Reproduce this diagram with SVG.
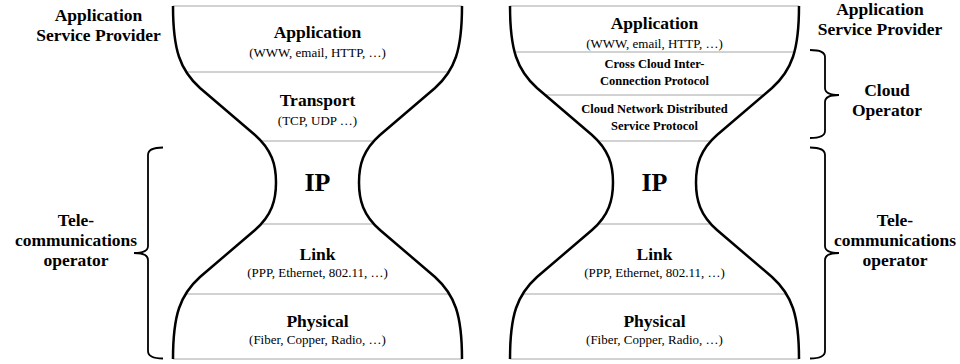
<svg xmlns="http://www.w3.org/2000/svg" width="960" height="364" viewBox="0 0 960 364" font-family="Liberation Serif, Times New Roman, DejaVu Serif, serif">
<style>
text{fill:#000;text-anchor:middle}
.b{font-weight:bold;font-size:17.5px}
.s{font-size:13px}
.m{font-weight:bold;font-size:12.5px}
.ip{font-weight:bold;font-size:26px}
.outline{fill:none;stroke:#000;stroke-width:2.5}
.div{stroke:#a6a6a6;stroke-width:1.2;fill:none}
.brace{fill:none;stroke:#000;stroke-width:1.8}
</style>
<defs>
<path id="hg" d="M173,6 C173,50 180,70 200,88 L255,135 C272,150 276,165 276,182.5 C276,200 272,215 255,230 L200,277 C180,295 173,315 173,359 M462,6 C462,50 455,70 435,88 L380,135 C363,150 359,165 359,182.5 C359,200 363,215 380,230 L435,277 C455,295 462,315 462,359"/>
</defs>

<g id="hourglass-left">
<line class="div" x1="173" y1="6" x2="462" y2="6"/>
<line class="div" x1="186" y1="72" x2="449" y2="72"/>
<line class="div" x1="260" y1="141" x2="375" y2="141"/>
<line class="div" x1="260" y1="224" x2="375" y2="224"/>
<line class="div" x1="186" y1="294" x2="449" y2="294"/>
<line class="div" x1="173" y1="359" x2="462" y2="359"/>
<use href="#hg" class="outline"/>
</g>

<g id="hourglass-right">
<line class="div" x1="510" y1="6" x2="799" y2="6"/>
<line class="div" x1="515" y1="52" x2="794" y2="52"/>
<line class="div" x1="545" y1="95" x2="764" y2="95"/>
<line class="div" x1="597" y1="141" x2="712" y2="141"/>
<line class="div" x1="597" y1="224" x2="712" y2="224"/>
<line class="div" x1="523" y1="294" x2="786" y2="294"/>
<line class="div" x1="510" y1="359" x2="799" y2="359"/>
<use href="#hg" class="outline" transform="translate(337,0)"/>
</g>

<g id="left-application"><text class="b" x="317.5" y="38">Application</text><text class="s" x="317.5" y="57">(WWW, email, HTTP, …)</text></g>
<g id="left-transport"><text class="b" x="317.5" y="106">Transport</text><text class="s" x="317.5" y="125">(TCP, UDP …)</text></g>
<g id="left-ip"><text class="ip" x="317.5" y="191">IP</text></g>
<g id="left-link"><text class="b" x="317.5" y="260">Link</text><text class="s" x="317.5" y="277">(PPP, Ethernet, 802.11, …)</text></g>
<g id="left-physical"><text class="b" x="317.5" y="327">Physical</text><text class="s" x="317.5" y="344">(Fiber, Copper, Radio, …)</text></g>

<g id="right-application"><text class="b" x="654.5" y="29">Application</text><text class="s" x="654.5" y="48">(WWW, email, HTTP, …)</text></g>
<g id="right-cross-cloud"><text class="m" x="654.5" y="68">Cross Cloud Inter-</text><text class="m" x="654.5" y="85">Connection Protocol</text></g>
<g id="right-cloud-network"><text class="m" x="654.5" y="113">Cloud Network Distributed</text><text class="m" x="654.5" y="130">Service Protocol</text></g>
<g id="right-ip"><text class="ip" x="654.5" y="191">IP</text></g>
<g id="right-link"><text class="b" x="654.5" y="260">Link</text><text class="s" x="654.5" y="277">(PPP, Ethernet, 802.11, …)</text></g>
<g id="right-physical"><text class="b" x="654.5" y="327">Physical</text><text class="s" x="654.5" y="344">(Fiber, Copper, Radio, …)</text></g>

<g id="label-asp-left"><text class="b" x="98.5" y="21">Application</text><text class="b" x="98.5" y="41">Service Provider</text></g>
<g id="label-tele-left"><text class="b" x="76" y="226">Tele-</text><text class="b" x="76" y="246" textLength="122" lengthAdjust="spacingAndGlyphs">communications</text><text class="b" x="76" y="266">operator</text></g>
<g id="label-asp-right"><text class="b" x="880" y="15">Application</text><text class="b" x="880" y="35">Service Provider</text></g>
<g id="label-cloud-operator"><text class="b" x="887" y="96">Cloud</text><text class="b" x="887" y="116">Operator</text></g>
<g id="label-tele-right"><text class="b" x="895" y="226">Tele-</text><text class="b" x="895" y="246" textLength="122" lengthAdjust="spacingAndGlyphs">communications</text><text class="b" x="895" y="266">operator</text></g>

<g id="connectors">
<path class="brace" d="M163,147.5 Q148,147.5 148,155 L148,246 Q148,253 134,253 Q148,253 148,260 L148,351 Q148,358.5 163,358.5"/>
<path class="brace" d="M810,50 Q825,50 825,57 L825,88 Q825,95 839,95 Q825,95 825,102 L825,131 Q825,138 810,138"/>
<path class="brace" d="M810,147.5 Q825,147.5 825,155 L825,246 Q825,253 839,253 Q825,253 825,260 L825,351 Q825,358.5 810,358.5"/>
</g>
</svg>
